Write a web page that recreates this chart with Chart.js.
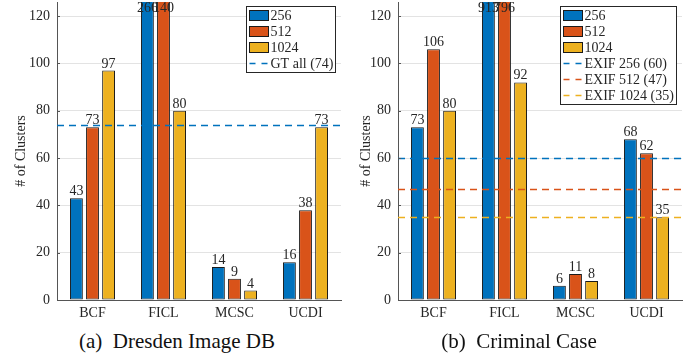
<!DOCTYPE html>
<html><head><meta charset="utf-8">
<script src="https://cdn.jsdelivr.net/npm/chart.js@4.4.1/dist/chart.umd.min.js"></script>
<style>
body{margin:0;background:#fff;width:697px;height:360px;overflow:hidden;position:relative;font-family:"Liberation Serif",serif;}
.wrap{position:absolute;top:0;height:320px;}
.cap{position:absolute;top:331px;font-size:21px;line-height:21px;color:#111;text-align:center;white-space:nowrap;}
</style></head><body>
<div class="wrap" style="left:0;width:348px"><canvas id="c1" width="348" height="320"></canvas></div>
<div class="wrap" style="left:345px;width:352px"><canvas id="c2" width="352" height="320"></canvas></div>
<div class="cap" style="left:57px;width:240px">(a)&nbsp; Dresden Image DB</div>
<div class="cap" style="left:419px;width:200px">(b)&nbsp; Criminal Case</div>
<script>
const categories = ['BCF', 'FICL', 'MCSC', 'UCDI'];
const seriesLabels = ['256', '512', '1024'];
const dresden256 = [43, 266, 14, 16];
const dresden512 = [73, 140, 9, 38];
const dresden1024 = [97, 80, 4, 73];
const criminal256 = [73, 913, 6, 68];
const criminal512 = [106, 796, 11, 62];
const criminal1024 = [80, 92, 8, 35];
const dresdenRefLabels = ['GT all (74)'];
const dresdenRefValues = [74];
const criminalRefLabels = ['EXIF 256 (60)', 'EXIF 512 (47)', 'EXIF 1024 (35)'];
const criminalRefValues = [60, 47, 35];
const yTicks = [0, 20, 40, 60, 80, 100, 120];
const yMax = 126;

const colors = ['#0072BD', '#D95319', '#EDB120'];
const textColor = '#262626';
const FONT = '"Liberation Serif", serif';

const customPlugin = {
  id: 'custom',
  afterDatasetsDraw(chart) {
    const opts = chart.options.plugins.custom;
    const ctx = chart.ctx;
    const ca = chart.chartArea;
    const ys = chart.scales.y;
    ctx.save();
    opts.refValues.forEach((v, i) => {
      const y = Math.round(ys.getPixelForValue(v)) + 0.5;
      ctx.strokeStyle = colors[i];
      ctx.lineWidth = 1.5;
      ctx.setLineDash([7, 5]);
      ctx.beginPath();
      ctx.moveTo(ca.left, y);
      ctx.lineTo(ca.right, y);
      ctx.stroke();
    });
    ctx.restore();
    ctx.save();
    ctx.font = '14px ' + FONT;
    ctx.fillStyle = textColor;
    ctx.textAlign = 'center';
    ctx.textBaseline = 'alphabetic';
    chart.data.datasets.forEach((ds, di) => {
      const meta = chart.getDatasetMeta(di);
      meta.data.forEach((el, j) => {
        const v = ds.data[j];
        const y = v > yMax ? ca.top + 10 : el.y - 3;
        ctx.fillText(String(v), el.x, y);
      });
    });
    ctx.restore();
  },
  afterDraw(chart) {
    const opts = chart.options.plugins.custom;
    const ctx = chart.ctx;
    const ca = chart.chartArea;
    const ys = chart.scales.y;
    ctx.save();
    ctx.strokeStyle = '#555';
    ctx.lineWidth = 1;
    yTicks.forEach(t => {
      const y = Math.round(ys.getPixelForValue(t)) + 0.5;
      ctx.beginPath();
      ctx.moveTo(ca.left, y);
      ctx.lineTo(ca.left + 3, y);
      ctx.stroke();
    });
    ctx.restore();
    const items = [];
    chart.data.datasets.forEach((ds, i) => items.push({type: 'box', label: ds.label, color: colors[i]}));
    opts.refLabels.forEach((l, i) => items.push({type: 'dash', label: l, color: colors[i]}));
    ctx.save();
    ctx.font = '14px ' + FONT;
    let maxW = 0;
    items.forEach(it => { maxW = Math.max(maxW, ctx.measureText(it.label).width); });
    const w = 3 + 19 + 2 + maxW + 3;
    const h = items.length * 16 + 2;
    const right = Math.round(ca.right - 6) + 0.5;
    const left = Math.round(right - w) + 0.5;
    const top = Math.round(ca.top + 4) + 0.5;
    ctx.fillStyle = '#fff';
    ctx.fillRect(left, top, right - left, h);
    ctx.strokeStyle = '#262626';
    ctx.lineWidth = 1;
    ctx.strokeRect(left, top, right - left, h);
    items.forEach((it, i) => {
      const cy = top + 9 + i * 16;
      const sx = left + 3;
      if (it.type === 'box') {
        ctx.fillStyle = it.color;
        ctx.fillRect(sx, cy - 5, 19, 10);
        ctx.strokeStyle = '#1a1a1a';
        ctx.strokeRect(sx, cy - 5, 19, 10);
      } else {
        ctx.strokeStyle = it.color;
        ctx.lineWidth = 1.5;
        ctx.setLineDash([6, 6]);
        ctx.beginPath();
        ctx.moveTo(sx, cy);
        ctx.lineTo(sx + 19, cy);
        ctx.stroke();
        ctx.setLineDash([]);
        ctx.lineWidth = 1;
      }
      ctx.fillStyle = textColor;
      ctx.textAlign = 'left';
      ctx.textBaseline = 'middle';
      ctx.fillText(it.label, sx + 21, cy + 1);
    });
    ctx.restore();
  }
};

function makeChart(id, d256, d512, d1024, refLabels, refValues, axisWidth, padRight) {
  const data = [d256, d512, d1024];
  new Chart(document.getElementById(id), {
    type: 'bar',
    data: {
      labels: categories,
      datasets: data.map((d, i) => ({
        label: seriesLabels[i],
        data: d,
        backgroundColor: colors[i],
        borderColor: '#1a1a1a',
        borderWidth: 1,
        borderSkipped: false,
        categoryPercentage: 0.68,
        barPercentage: 0.8
      }))
    },
    options: {
      responsive: false,
      animation: false,
      devicePixelRatio: 1,
      layout: {padding: {left: 0, right: padRight, top: 2, bottom: 0}},
      plugins: {
        legend: {display: false},
        tooltip: {enabled: false},
        custom: {refLabels: refLabels, refValues: refValues}
      },
      scales: {
        x: {
          type: 'category',
          grid: {display: false, drawTicks: false},
          border: {display: true, color: '#555', width: 1},
          ticks: {font: {family: FONT, size: 14}, color: textColor, padding: 5},
          afterFit(s) { s.height = 20; s.paddingLeft = 0; s.paddingRight = 0; }
        },
        y: {
          min: 0, max: yMax,
          afterBuildTicks(s) { s.ticks = yTicks.map(v => ({value: v})); },
          grid: {color: '#e3e3e3', drawTicks: false},
          border: {display: true, color: '#555', width: 1},
          ticks: {font: {family: FONT, size: 14}, color: textColor, padding: 7},
          title: {display: true, text: '# of Clusters', font: {family: FONT, size: 14}, color: textColor, padding: {top: 13, bottom: 0}},
          afterFit(s) { s.width = axisWidth; s.paddingTop = 0; s.paddingBottom = 0; }
        }
      }
    },
    plugins: [customPlugin]
  });
}

makeChart('c1', dresden256, dresden512, dresden1024, dresdenRefLabels, dresdenRefValues, 57, 7);
makeChart('c2', criminal256, criminal512, criminal1024, criminalRefLabels, criminalRefValues, 53, 15);
</script>
</body></html>
